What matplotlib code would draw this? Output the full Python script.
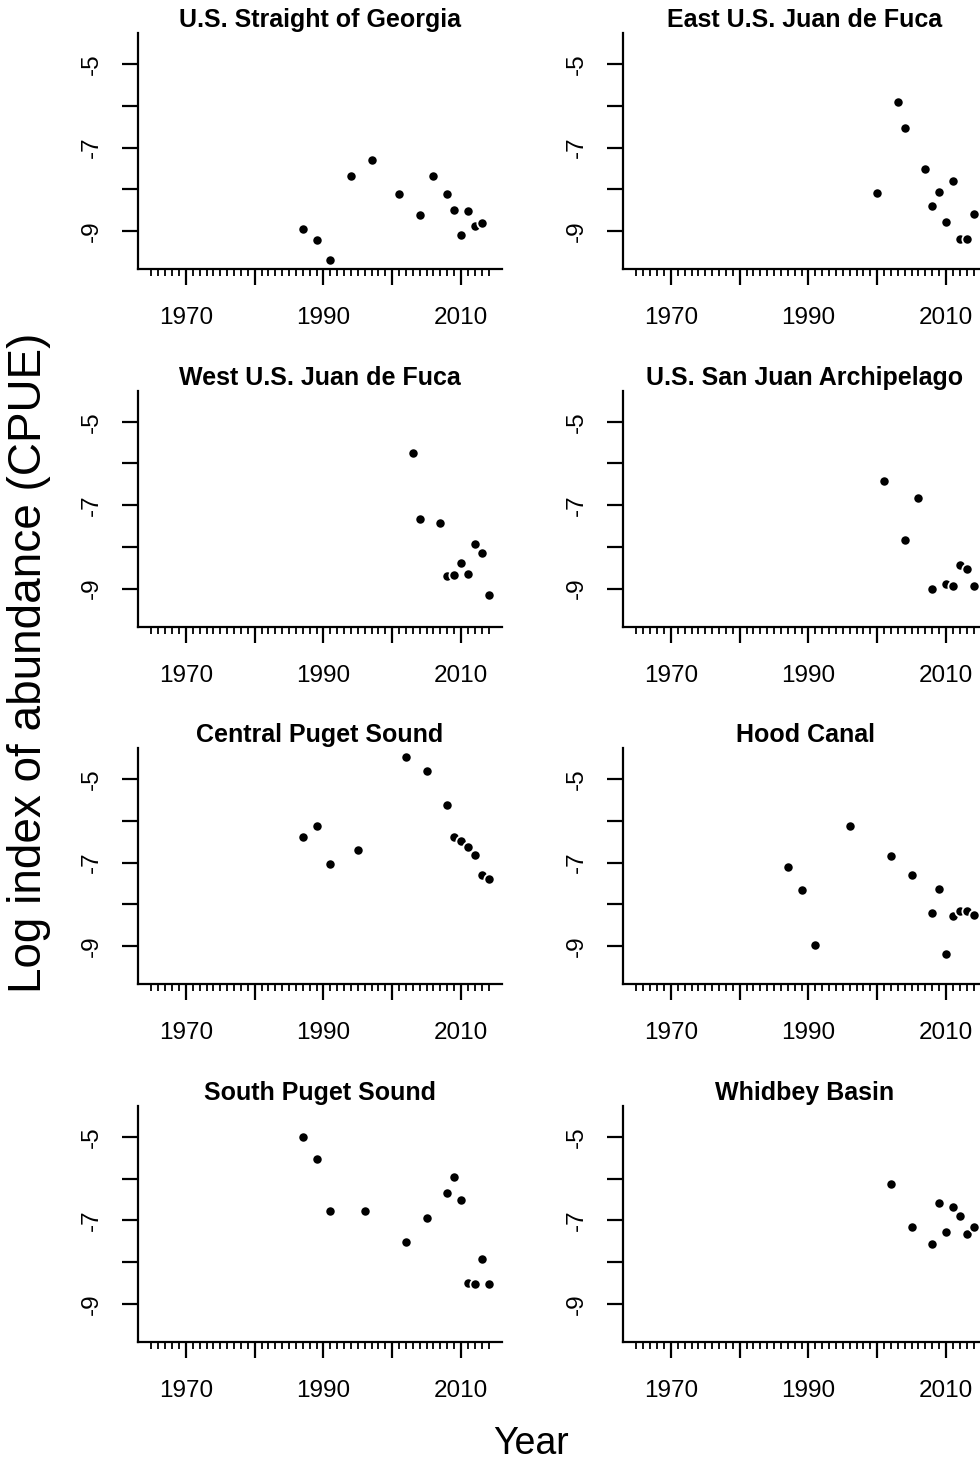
import matplotlib
matplotlib.use("Agg")
import matplotlib.pyplot as plt
from matplotlib.ticker import FixedLocator, FixedFormatter

plt.rcParams['font.family'] = ['Liberation Sans', 'DejaVu Sans']

# data (year, log CPUE)
georgia_years = [1987, 1989, 1991, 1994, 1997, 2001, 2004, 2006, 2008, 2009, 2010, 2011, 2012, 2013]
georgia_cpue = [-8.96, -9.22, -9.70, -7.67, -7.30, -8.12, -8.62, -7.68, -8.12, -8.49, -9.09, -8.53, -8.88, -8.80]

east_jdf_years = [2000, 2003, 2004, 2007, 2008, 2009, 2010, 2011, 2012, 2013, 2014]
east_jdf_cpue = [-8.08, -5.91, -6.52, -7.51, -8.41, -8.07, -8.79, -7.81, -9.19, -9.19, -8.59]

west_jdf_years = [2003, 2004, 2007, 2008, 2009, 2010, 2011, 2012, 2013, 2014]
west_jdf_cpue = [-5.75, -7.34, -7.43, -8.71, -8.67, -8.39, -8.64, -7.93, -8.14, -9.16]

san_juan_years = [2001, 2004, 2006, 2008, 2010, 2011, 2012, 2013, 2014]
san_juan_cpue = [-6.41, -7.83, -6.84, -9.02, -8.90, -8.95, -8.43, -8.53, -8.93]

central_years = [1987, 1989, 1991, 1995, 2002, 2005, 2008, 2009, 2010, 2011, 2012, 2013, 2014]
central_cpue = [-6.38, -6.13, -7.03, -6.69, -4.46, -4.81, -5.62, -6.38, -6.48, -6.63, -6.82, -7.29, -7.39]

hood_years = [1987, 1989, 1991, 1996, 2002, 2005, 2008, 2009, 2010, 2011, 2012, 2013, 2014]
hood_cpue = [-7.10, -7.65, -8.98, -6.11, -6.83, -7.29, -8.21, -7.62, -9.18, -8.27, -8.17, -8.15, -8.25]

south_years = [1987, 1989, 1991, 1996, 2002, 2005, 2008, 2009, 2010, 2011, 2012, 2013, 2014]
south_cpue = [-5.00, -5.54, -6.78, -6.77, -7.52, -6.95, -6.34, -5.96, -6.50, -8.50, -8.53, -7.93, -8.53]

whidbey_years = [2002, 2005, 2008, 2009, 2010, 2011, 2012, 2013, 2014]
whidbey_cpue = [-6.12, -7.15, -7.57, -6.59, -7.29, -6.67, -6.90, -7.33, -7.17]

titles = ["U.S. Straight of Georgia", "East U.S. Juan de Fuca",
          "West U.S. Juan de Fuca", "U.S. San Juan Archipelago",
          "Central Puget Sound", "Hood Canal",
          "South Puget Sound", "Whidbey Basin"]
panels = [(georgia_years, georgia_cpue), (east_jdf_years, east_jdf_cpue),
          (west_jdf_years, west_jdf_cpue), (san_juan_years, san_juan_cpue),
          (central_years, central_cpue), (hood_years, hood_cpue),
          (south_years, south_cpue), (whidbey_years, whidbey_cpue)]

x_range = (1965, 2014)
y_ticks = [-9, -8, -7, -6, -5]
y_labels = ["-9", "", "-7", "", "-5"]
x_major = [1970, 1980, 1990, 2000, 2010]
x_labels = ["1970", "", "1990", "", "2010"]

# R style 4% axis extension
ymin = min(min(v) for _, v in panels)
ymax = max(max(v) for _, v in panels)
yr = ymax - ymin
ylim = (ymin - 0.04 * yr, ymax + 0.04 * yr)
xr = x_range[1] - x_range[0]
xlim = (x_range[0] - 0.04 * xr, x_range[1] + 0.04 * xr)

W, H = 980, 1464
fig = plt.figure(figsize=(W / 100, H / 100), dpi=100)

lefts = [138, 623]
tops = [33, 390.5, 748, 1105.7]
aw, ah = 364, 236

for i, (title, (yrs, vals)) in enumerate(zip(titles, panels)):
    row, col = divmod(i, 2)
    ax = fig.add_axes([lefts[col] / W, 1 - (tops[row] + ah) / H, aw / W, ah / H])
    ax.plot(yrs, vals, 'o', color='black', ms=7.4, mec='white', mew=1.3,
            linestyle='none', clip_on=False)
    ax.set_xlim(*xlim)
    ax.set_ylim(*ylim)
    for s in ['top', 'right']:
        ax.spines[s].set_visible(False)
    for s in ['left', 'bottom']:
        ax.spines[s].set_linewidth(1.6)
    ax.yaxis.set_major_locator(FixedLocator(y_ticks))
    ax.yaxis.set_major_formatter(FixedFormatter(y_labels))
    ax.xaxis.set_major_locator(FixedLocator(x_major))
    ax.xaxis.set_major_formatter(FixedFormatter(x_labels))
    ax.xaxis.set_minor_locator(FixedLocator(list(range(x_range[0], x_range[1] + 1))))
    ax.tick_params(axis='both', which='major', direction='out', length=11.5, width=1.6,
                   labelsize=17.5)
    ax.tick_params(axis='x', which='major', pad=16)
    ax.tick_params(axis='y', which='major', pad=14)
    ax.tick_params(axis='x', which='minor', direction='out', length=5.3, width=1.3)
    for lab in ax.get_yticklabels():
        lab.set_rotation(90)
        lab.set_va('center')
    ax.set_title(title, fontsize=18, fontweight='bold', pad=4)

fig.text(29 / W, 1 - 663 / H, "Log index of abundance (CPUE)", rotation=90,
         ha='center', va='center', fontsize=33)
fig.text(531 / W, 1 - 1444 / H, "Year", ha='center', va='center', fontsize=27)

fig.savefig("out.png", dpi=100)
